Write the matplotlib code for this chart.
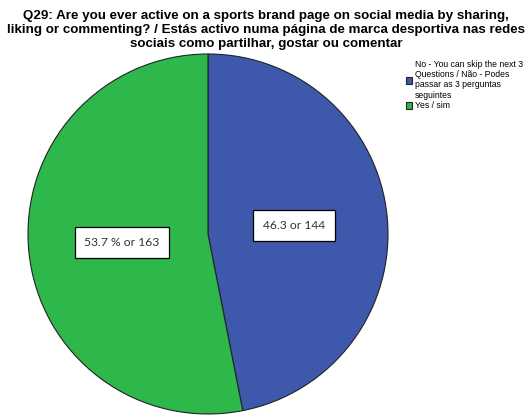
import matplotlib.pyplot as plt

# dados do gráfico
categorias = ['No - You can skip the next 3\nQuestions / Não - Podes\npassar as 3 perguntas\nseguintes',
              'Yes / sim']
contagens = [144, 163]
rotulos = ['46.3 or 144', '53.7 % or 163']
cores = ['#3E58AB', '#2EB84B']

titulo = ('Q29: Are you ever active on a sports brand page on social media by sharing,\n'
          'liking or commenting? / Estás activo numa página de marca desportiva nas redes\n'
          'sociais como partilhar, gostar ou comentar')

fig = plt.figure(figsize=(5.32, 4.15), dpi=100)
ax = fig.add_axes([0.0526, 0.0024, 0.6767, 0.8675])

idx = iter(rotulos)
wedges, textos, autotextos = ax.pie(
	contagens, colors=cores,
	startangle=90, counterclock=False,
	wedgeprops=dict(edgecolor='#222222', linewidth=0.8),
	autopct=lambda p: next(idx),
	pctdistance=0.48,
)
for t in autotextos:
	t.set_fontfamily('Lato')
	t.set_fontsize(8.7)
	t.set_color('#333333')
	t.set_bbox(dict(boxstyle='square,pad=0.8', facecolor='white',
	                edgecolor='black', linewidth=0.9))
ax.set_xlim(-1, 1)
ax.set_ylim(-1, 1)

# título
fig.text(0.5, 0.975, titulo, ha='center', va='top',
         fontfamily='Liberation Sans', fontweight='bold', fontsize=9.6,
         linespacing=1.18)

# legenda
fig.legend(wedges, categorias, loc='upper left', bbox_to_anchor=(0.748, 0.875),
           frameon=False, prop=dict(family='Liberation Sans', size=6.2),
           handlelength=0.75, handleheight=0.9, handletextpad=0.3,
           labelspacing=0.15)

fig.savefig('out.png', dpi=100)
